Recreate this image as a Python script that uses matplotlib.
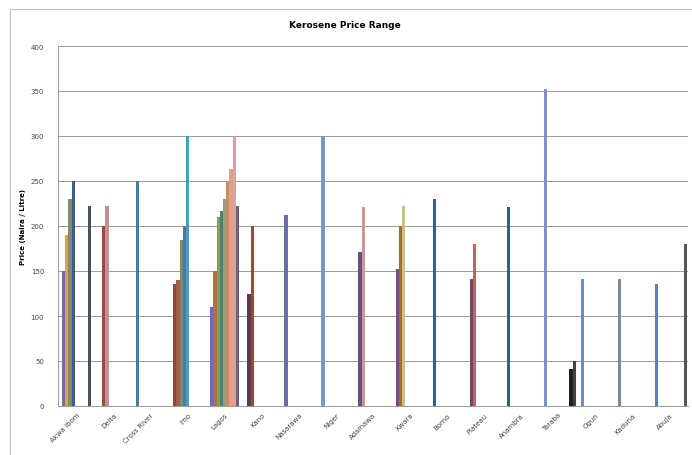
import matplotlib
matplotlib.use("Agg")
import matplotlib.pyplot as plt
from matplotlib.patches import Rectangle

# states along the x axis
categories = ["Akwa Ibom", "Delta", "Cross River", "Imo", "Lagos", "Kano",
              "Nasarawa", "Niger", "Adamawa", "Kwara", "Borno", "Plateau",
              "Anambra", "Taraba", "Ogun", "Kaduna", "Abuja"]

# series number of each price inside a category, and the price (naira / litre)
series = [[0, 1, 2, 3, 8], [1, 2], [0], [0, 1, 2, 3, 4],
          [0, 1, 2, 3, 4, 5, 6, 7, 8], [0, 1], [0], [0], [0, 1], [0, 1, 2],
          [0], [0, 1], [0], [0, 8, 9], [0], [0], [0, 9]]
prices = [[150, 190, 230, 250, 222], [200, 222], [250], [136, 140, 185, 200, 300],
          [110, 150, 210, 217, 230, 250, 263, 300, 222], [125, 200], [212], [300],
          [171, 221], [152, 200, 222], [230], [141, 180], [221], [352, 41, 50],
          [141], [141], [136, 180]]

# bar colours (style only)
colors = [["#6b6fb0", "#d8a640", "#7f8c6c", "#3e5b8c", "#4b4f5f"],
          ["#a44444", "#c79090"],
          ["#3f7fa0"],
          ["#8b4a3a", "#a35c4a", "#6f906a", "#4a7ba2", "#4c9cc4"],
          ["#6b6fb0", "#b07040", "#80a060", "#4f8070", "#9b9b82", "#d08a6a",
           "#e2a282", "#d8a0a8", "#6b6272"],
          ["#5b3b5b", "#b23c3c"],
          ["#6b6fa2"],
          ["#8096c2"],
          ["#6b507b", "#c89898"],
          ["#6b508b", "#a26b3b", "#c4c47e"],
          ["#3b5b8c"],
          ["#6b4b6b", "#c26262"],
          ["#3b5b7b"],
          ["#8090c2", "#1e1e1e", "#404040"],
          ["#6a8fc2"],
          ["#7a8aa2"],
          ["#5a80b2", "#555555"]]

fig = plt.figure(figsize=(6.92, 4.56), dpi=100)
ax = fig.add_axes([58 / 692, 49 / 456, 630 / 692, 360 / 456])

slot = 3.2 / 37.0
for i in range(len(categories)):
    for s, p, c in zip(series[i], prices[i], colors[i]):
        ax.bar(i + 4 / 37.0 + s * slot, p, width=slot, align="edge",
               color=c, linewidth=0, zorder=3)

ax.set_xlim(0, len(categories))
ax.set_ylim(0, 400)
ax.set_yticks(range(0, 401, 50))
ax.set_xticks([i + 0.5 for i in range(len(categories))])
ax.set_xticklabels(categories, rotation=45, ha="right", rotation_mode="anchor",
                   fontsize=5, color="#444444")
ax.tick_params(axis="y", labelsize=5, labelcolor="#444444", length=0, pad=10)
ax.tick_params(axis="x", length=0, pad=4)
ax.grid(axis="y", color="#9a9a9a", linewidth=0.7, zorder=0)
for side in ["top", "right"]:
    ax.spines[side].set_visible(False)
ax.spines["left"].set_color("#9a9a9a")
ax.spines["bottom"].set_color("#9a9a9a")
ax.spines["left"].set_linewidth(0.7)
ax.spines["bottom"].set_linewidth(0.7)

ax.set_ylabel("Price (Naira / Litre)", fontsize=5, fontweight="bold", labelpad=3)
fig.text(345 / 692, 1 - 26 / 456, "Kerosene Price Range", ha="center", va="center",
         fontsize=6.5, fontweight="bold")

# chart frame
fig.patches.append(Rectangle((10 / 692, -0.01), 1.0, 1 - 10 / 456 + 0.01,
                             transform=fig.transFigure, fill=False,
                             edgecolor="#c0c0c0", linewidth=0.8))

fig.savefig("out.png", dpi=100)
